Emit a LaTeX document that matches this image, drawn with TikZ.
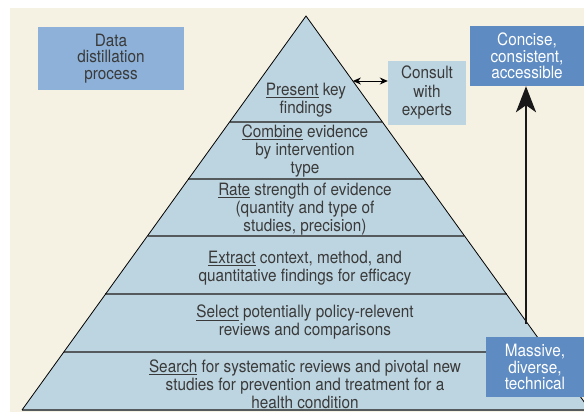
\documentclass[tikz,border=0pt]{standalone}
\usepackage{fontspec}
\setmainfont[FakeStretch=0.9]{TeX Gyre Heros}
\usetikzlibrary{calc,arrows.meta}
\definecolor{cream}{HTML}{F5F1E3}
\definecolor{layerblue}{HTML}{BDD5E1}
\definecolor{midblue}{HTML}{8DB1D8}
\definecolor{darkblue}{HTML}{5E8BC1}
\definecolor{inkgray}{HTML}{3A3A3A}
\definecolor{rulegray}{HTML}{555A5C}

\begin{document}
\begin{tikzpicture}[x=1pt,y=-1pt,
    infobox/.style={inner sep=0pt,align=center,text=inkgray,font=\fontsize{17}{16.7}\selectfont},
    layertext/.style={inner sep=0pt,align=center,text=inkgray,font=\fontsize{17}{18}\selectfont}]
    \useasboundingbox(0,0) rectangle (584,412);
    \clip(0,0) rectangle (584,412);
    \fill[cream](10,8) rectangle (584,412);

    % pyramid
    \coordinate(apex) at (306,16);
    \coordinate(bl) at (22,410);
    \coordinate(br) at (590,410);
    \fill[layerblue](apex)--(br)--(bl)--cycle;
    \foreach \t in {0.269,0.414,0.558,0.706,0.853}
        \draw[rulegray,line width=1.5pt]($(apex)!\t!(bl)$)--($(apex)!\t!(br)$);
    \draw[rulegray,line width=1.5pt](bl)--(br);
    \draw[line width=0.8pt](bl)--(apex)--(br);

    \node[layertext](present) at (306,100){\underline{Present} key\\findings};
    \node[layertext](combine) at (305,151){\underline{Combine} evidence\\by intervention\\type};
    \node[layertext](rate) at (305,209.5){\underline{Rate} strength of evidence\\(quantity and type of\\studies, precision)};
    \node[layertext](extract) at (305,268){\underline{Extract} context, method, and\\quantitative findings for efficacy};
    \node[layertext](select) at (305,322.5){\underline{Select} potentially policy-relevent\\reviews and comparisons};
    \node[layertext](search) at (305,384.5){\underline{Search} for systematic reviews and pivotal new\\studies for prevention and treatment for a\\health condition};

    % side boxes
    \node[infobox,fill=midblue,minimum width=146pt,minimum height=63pt](data) at (111,58.5){Data\\distillation\\process};
    \node[infobox,fill=layerblue,minimum width=78pt,minimum height=64pt,font=\fontsize{17}{18.5}\selectfont](consult) at (427,93){Consult\\with\\experts};
    \node[infobox,fill=darkblue,text=white,minimum width=114pt,minimum height=60pt](concise) at (527,56){Concise,\\consistent,\\accessible};
    \node[infobox,fill=darkblue,text=white,minimum width=98pt,minimum height=60pt](massive) at (535,367){Massive,\\diverse,\\technical};

    \coordinate(edgept) at ($(apex)!0.165!(br)$);
    \draw[{Stealth[length=8pt,width=7pt]}-{Stealth[length=8pt,width=7pt]},line width=0.9pt](edgept)--(edgept -| consult.west);

    \coordinate(foot) at (526,324);
    \draw[-{Stealth[length=26pt,width=20pt,inset=7pt]},line width=2.5pt,black!90](foot)--(foot |- concise.south);
\end{tikzpicture}
\end{document}
